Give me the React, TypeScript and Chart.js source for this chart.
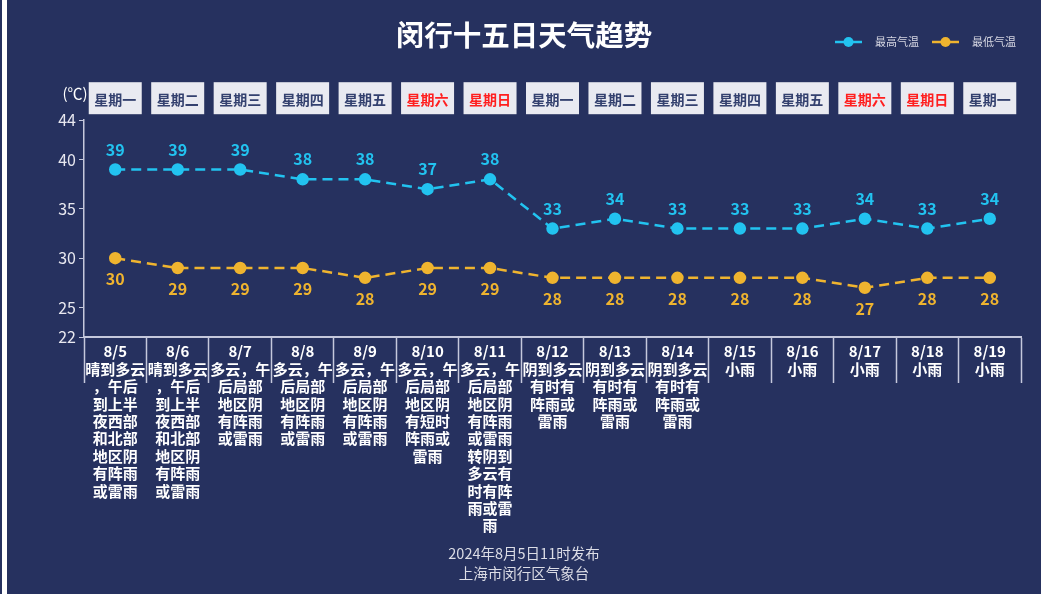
import { useEffect, useRef } from "react";
import { Chart, registerables } from "chart.js";

Chart.register(...registerables);

const titleText = "闵行十五日天气趋势";
const unitLabel = "(℃)";
const footerLines = ["2024年8月5日11时发布", "上海市闵行区气象台"];

const dates = ["8/5", "8/6", "8/7", "8/8", "8/9", "8/10", "8/11", "8/12", "8/13", "8/14", "8/15", "8/16", "8/17", "8/18", "8/19"];
const weekdays = ["星期一", "星期二", "星期三", "星期四", "星期五", "星期六", "星期日", "星期一", "星期二", "星期三", "星期四", "星期五", "星期六", "星期日", "星期一"];
const weather = [
  ["晴到多云", "，午后", "到上半", "夜西部", "和北部", "地区阴", "有阵雨", "或雷雨"],
  ["晴到多云", "，午后", "到上半", "夜西部", "和北部", "地区阴", "有阵雨", "或雷雨"],
  ["多云，午", "后局部", "地区阴", "有阵雨", "或雷雨"],
  ["多云，午", "后局部", "地区阴", "有阵雨", "或雷雨"],
  ["多云，午", "后局部", "地区阴", "有阵雨", "或雷雨"],
  ["多云，午", "后局部", "地区阴", "有短时", "阵雨或", "雷雨"],
  ["多云，午", "后局部", "地区阴", "有阵雨", "或雷雨", "转阴到", "多云有", "时有阵", "雨或雷", "雨"],
  ["阴到多云", "有时有", "阵雨或", "雷雨"],
  ["阴到多云", "有时有", "阵雨或", "雷雨"],
  ["阴到多云", "有时有", "阵雨或", "雷雨"],
  ["小雨"],
  ["小雨"],
  ["小雨"],
  ["小雨"],
  ["小雨"],
];
const highTemps = [39, 39, 39, 38, 38, 37, 38, 33, 34, 33, 33, 33, 34, 33, 34];
const lowTemps = [30, 29, 29, 29, 28, 29, 29, 28, 28, 28, 28, 28, 27, 28, 28];
const yTicks = [22, 25, 30, 35, 40, 44];
const seriesNames = ["最高气温", "最低气温"];

const FONT = '"Noto Sans CJK SC", "Microsoft YaHei", "Noto Sans", sans-serif';
const BG = "#26315f";
const HIGH = "#22c3f0";
const LOW = "#efb42f";
const AXIS = "#c5c8dc";

const decorPlugin = {
  id: "decor",
  afterDraw(chart: any) {
    const ctx = chart.ctx;
    const area = chart.chartArea;
    const xs = chart.scales.x;
    ctx.save();
    // weekday boxes
    weekdays.forEach((w, i) => {
      const cx = xs.getPixelForValue(i);
      const bw = 53, bh = 32;
      const top = area.top - 38;
      ctx.fillStyle = "#e9eaf1";
      ctx.fillRect(cx - bw / 2, top, bw, bh);
      ctx.fillStyle = w === "星期六" || w === "星期日" ? "#ff1f1f" : "#34416f";
      ctx.font = `bold 14px ${FONT}`;
      ctx.textAlign = "center";
      ctx.textBaseline = "middle";
      ctx.fillText(w, cx, top + bh / 2 + 1);
    });
    // unit label
    ctx.fillStyle = "#ffffff";
    ctx.font = `15px ${FONT}`;
    ctx.textAlign = "center";
    ctx.textBaseline = "middle";
    ctx.fillText(unitLabel, area.left - 9, area.top - 27);
    // data labels
    chart.data.datasets.forEach((ds: any, di: number) => {
      const meta = chart.getDatasetMeta(di);
      ctx.fillStyle = ds.borderColor;
      ctx.font = `bold 16px ${FONT}`;
      meta.data.forEach((pt: any, i: number) => {
        const off = di === 0 ? -20 : 21;
        ctx.fillText(String(ds.data[i]), pt.x, pt.y + off);
      });
    });
    // legend
    let lx = 828;
    const ly = 42;
    ctx.font = `11px ${FONT}`;
    chart.data.datasets.forEach((ds: any) => {
      ctx.strokeStyle = ds.borderColor;
      ctx.lineWidth = 2.5;
      ctx.beginPath();
      ctx.moveTo(lx, ly);
      ctx.lineTo(lx + 27, ly);
      ctx.stroke();
      ctx.fillStyle = ds.borderColor;
      ctx.beginPath();
      ctx.arc(lx + 13.5, ly, 5, 0, Math.PI * 2);
      ctx.fill();
      ctx.fillStyle = "#d6d7e2";
      ctx.textAlign = "left";
      ctx.fillText(ds.label, lx + 40, ly);
      lx += 40 + ctx.measureText(ds.label).width + 13;
    });
    ctx.restore();
  },
};

export default function App() {
  const ref = useRef<HTMLCanvasElement | null>(null);
  useEffect(() => {
    if (!ref.current) return;
    const labels = dates.map((d, i) => [d, ...weather[i]]);
    const chart = new Chart(ref.current, {
      type: "line",
      data: {
        labels,
        datasets: [
          {
            label: seriesNames[0],
            data: highTemps,
            borderColor: HIGH,
            backgroundColor: HIGH,
            pointBackgroundColor: HIGH,
            pointBorderColor: HIGH,
            pointRadius: 5,
            borderWidth: 2.5,
            borderDash: [10, 6],
            tension: 0,
          },
          {
            label: seriesNames[1],
            data: lowTemps,
            borderColor: LOW,
            backgroundColor: LOW,
            pointBackgroundColor: LOW,
            pointBorderColor: LOW,
            pointRadius: 5,
            borderWidth: 2.5,
            borderDash: [10, 6],
            tension: 0,
          },
        ],
      },
      options: {
        responsive: false,
        animation: false,
        layout: { padding: 0 },
        plugins: {
          legend: { display: false },
          tooltip: { enabled: false },
          title: {
            display: true,
            text: titleText,
            color: "#ffffff",
            font: { family: FONT, size: 28.5, weight: "bold" },
            padding: { top: 18, bottom: 68 },
          },
          subtitle: {
            display: true,
            position: "bottom",
            text: footerLines,
            color: "#dcdde6",
            font: { family: FONT, size: 14.5, lineHeight: "20px" },
            padding: { top: 8, bottom: 11 },
          },
        },
        scales: {
          x: {
            type: "category",
            offset: true,
            grid: {
              offset: true,
              drawOnChartArea: false,
              drawTicks: true,
              tickLength: 46,
              tickColor: AXIS,
              tickWidth: 1.5,
            },
            border: { display: true, color: AXIS, width: 2 },
            ticks: {
              autoSkip: false,
              maxRotation: 0,
              minRotation: 0,
              padding: -40,
              color: "#ffffff",
              font: { family: FONT, size: 15, weight: "bold", lineHeight: "17.4px" },
            },
            afterFit: (scale: any) => {
              scale.height = 198;
            },
          },
          y: {
            type: "linear",
            min: 22,
            max: 44,
            grid: {
              drawOnChartArea: false,
              drawTicks: true,
              tickLength: 5,
              tickColor: AXIS,
            },
            border: { display: true, color: AXIS, width: 1.5 },
            ticks: {
              color: "#e8e8f0",
              padding: 3,
              font: { family: FONT, size: 16 },
            },
            afterBuildTicks: (scale: any) => {
              scale.ticks = yTicks.map((v) => ({ value: v }));
            },
            afterFit: (scale: any) => {
              scale.width = 77;
            },
          },
          yRight: {
            type: "linear",
            position: "right",
            grid: { display: false, drawTicks: false },
            border: { display: false },
            ticks: { display: false },
            afterFit: (scale: any) => {
              scale.width = 20;
            },
          },
        },
      },
      plugins: [decorPlugin],
    } as any);
    return () => chart.destroy();
  }, []);

  return (
    <div style={{ position: "fixed", left: 0, top: 0, display: "flex", width: 1041, height: 594, background: BG }}>
      <div style={{ width: 2, height: 594, background: BG }} />
      <div style={{ width: 5, height: 594, background: "#ffffff" }} />
      <canvas ref={ref} width={1034} height={594} style={{ display: "block", width: 1034, height: 594 }} />
    </div>
  );
}
